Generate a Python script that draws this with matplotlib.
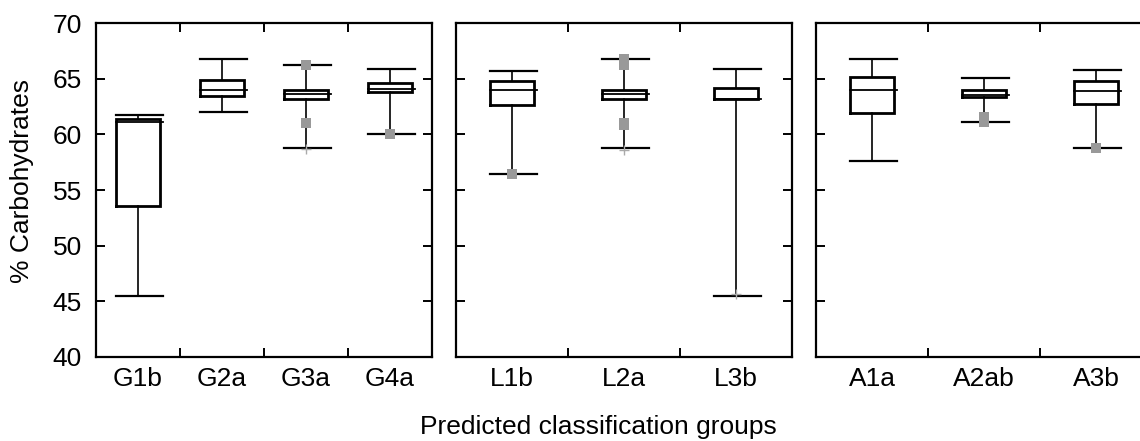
import matplotlib
matplotlib.use("Agg")
import matplotlib.pyplot as plt

plt.rcParams["font.family"] = ["Liberation Sans", "DejaVu Sans"]

# -----------------------------------------
# Data
# -----------------------------------------

panel_groups = [
    ["G1b", "G2a", "G3a", "G4a"],
    ["L1b", "L2a", "L3b"],
    ["A1a", "A2ab", "A3b"],
]

whisker_hi = [
    [61.75, 66.8, 66.25, 65.85],
    [65.7, 66.8, 65.85],
    [66.8, 65.05, 65.75],
]
q3 = [
    [61.4, 64.9, 63.98, 64.65],
    [64.82, 63.98, 64.16],
    [65.15, 63.98, 64.82],
]
median = [
    [61.08, 63.98, 63.6, 64.1],
    [64.0, 63.6, 63.2],
    [64.0, 63.57, 63.92],
]
q1 = [
    [53.6, 63.47, 63.2, 63.77],
    [62.66, 63.2, 63.2],
    [61.94, 63.38, 62.72],
]
whisker_lo = [
    [45.5, 62.03, 58.8, 60.0],
    [56.47, 58.8, 45.5],
    [57.63, 61.08, 58.8],
]
outliers = [
    [[], [], [66.25, 61.05], [60.0]],
    [[56.47], [66.77, 66.23, 61.0, 60.8], []],
    [[], [61.53, 61.08], [58.8]],
]
extremes = [
    [[], [], [58.65], []],
    [[], [58.6], [45.7]],
    [[], [], []],
]

y_ticks = [40, 45, 50, 55, 60, 65, 70]

FS = 19

# -----------------------------------------
# Layout
# -----------------------------------------

fig = plt.figure(figsize=(11.4, 4.41), dpi=100)

W, H = 1140.0, 441.0
panel_left_px = [96, 456, 816]
panel_width_px = 336
bottom_px, top_px = 357, 23

box_px = 44
cap_extra_px = 3

for p, groups in enumerate(panel_groups):

    ax = fig.add_axes(
        [
            panel_left_px[p] / W,
            1 - bottom_px / H,
            panel_width_px / W,
            (bottom_px - top_px) / H,
        ]
    )

    n = len(groups)
    cat_px = panel_width_px / n
    half = box_px / cat_px / 2
    extra = cap_extra_px / cat_px

    for i in range(n):

        x = i + 0.5
        left = x - half
        right = x + half

        # whiskers
        ax.plot([x, x], [whisker_lo[p][i], q1[p][i]], color="black", lw=1.2, zorder=2)
        ax.plot([x, x], [q3[p][i], whisker_hi[p][i]], color="black", lw=1.2, zorder=2)

        # caps
        for yv in (whisker_lo[p][i], whisker_hi[p][i]):
            ax.plot([left, right + extra], [yv, yv], color="black", lw=1.6, zorder=2)

        # box
        ax.plot(
            [left, right, right, left, left],
            [q1[p][i], q1[p][i], q3[p][i], q3[p][i], q1[p][i]],
            color="black",
            lw=2.0,
            zorder=3,
            solid_joinstyle="miter",
        )

        # median
        ax.plot([left, right + extra], [median[p][i], median[p][i]], color="black", lw=1.3, zorder=3)

        # outliers
        if outliers[p][i]:
            ax.plot(
                [x] * len(outliers[p][i]),
                outliers[p][i],
                linestyle="none",
                marker="s",
                markersize=7.5,
                color="#999999",
                markeredgewidth=0,
                zorder=4,
            )

        # extremes
        if extremes[p][i]:
            ax.plot(
                [x] * len(extremes[p][i]),
                extremes[p][i],
                linestyle="none",
                marker="+",
                markersize=7,
                color="#aaaaaa",
                markeredgewidth=1,
                zorder=4,
            )

    ax.set_xlim(0, n)
    ax.set_ylim(40, 70)

    # boundary ticks (no labels)
    ax.set_xticks(range(1, n))
    ax.set_xticklabels([])

    # labels at the category centres
    ax.set_xticks([i + 0.5 for i in range(n)], minor=True)
    ax.set_xticklabels(groups, minor=True, fontsize=FS)

    ax.set_yticks(y_ticks)

    ax.tick_params(
        axis="both",
        which="major",
        direction="in",
        length=6.5,
        width=1.4,
        top=True,
        right=True,
    )
    ax.tick_params(axis="x", which="minor", length=0, pad=7)

    if p == 0:
        ax.tick_params(axis="y", labelsize=FS, pad=10)
    else:
        ax.set_yticklabels([])

    for spine in ax.spines.values():
        spine.set_linewidth(1.6)

fig.text(
    22 / W,
    1 - 181 / H,
    "% Carbohydrates",
    rotation=90,
    ha="center",
    va="center",
    fontsize=FS,
)

fig.text(
    598 / W,
    1 - 427 / H,
    "Predicted classification groups",
    ha="center",
    va="center",
    fontsize=FS,
)

fig.savefig("out.png", dpi=100)

plt.close()
